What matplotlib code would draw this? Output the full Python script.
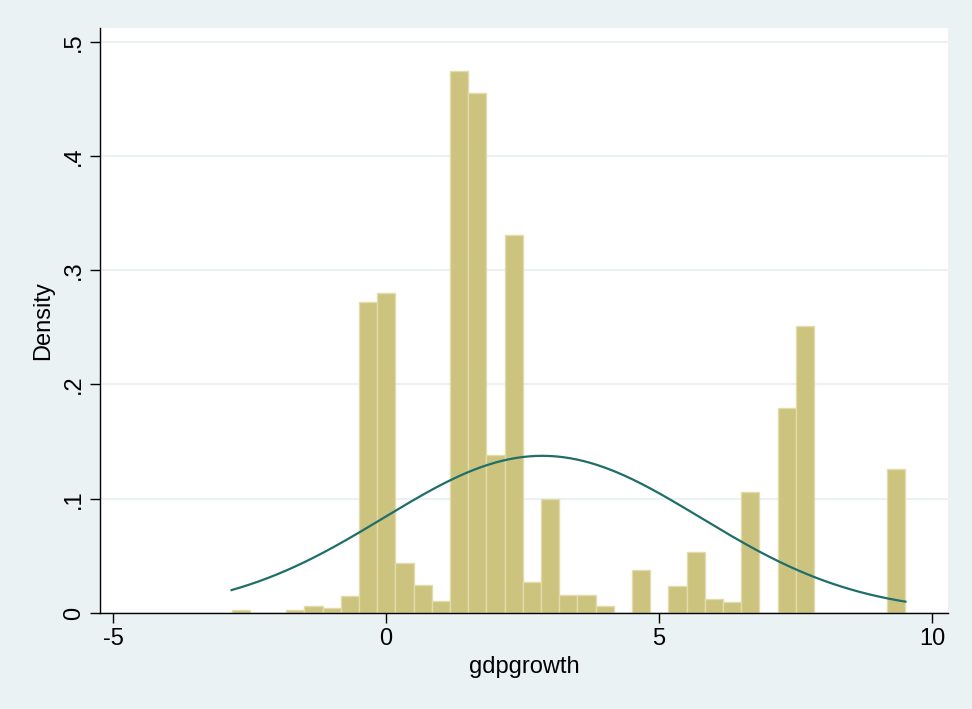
import numpy as np
import matplotlib.pyplot as plt

# histogram of gdpgrowth, 37 bins starting at the sample minimum
bin_start = -2.83
bin_width = 1 / 3
density = [0.003, 0.0, 0.0, 0.003, 0.006, 0.0045, 0.015, 0.272, 0.280, 0.0435,
           0.0245, 0.0105, 0.474, 0.455, 0.138, 0.331, 0.027, 0.100, 0.0155, 0.016,
           0.006, 0.0, 0.038, 0.0, 0.0236, 0.053, 0.012, 0.0094, 0.106, 0.0,
           0.179, 0.251, 0.0, 0.0, 0.0, 0.0, 0.126]

# normal density overlay
mu = 2.86
sd = 2.90
x_min, x_max = -2.83, 9.51

x_ticks = [-5, 0, 5, 10]
x_tick_labels = ["-5", "0", "5", "10"]
y_ticks = [0, 0.1, 0.2, 0.3, 0.4, 0.5]
y_tick_labels = ["0", ".1", ".2", ".3", ".4", ".5"]

bg = "#EAF2F3"
plt.rcParams['font.family'] = ['Liberation Sans', 'DejaVu Sans']

fig = plt.figure(figsize=(9.72, 7.09), dpi=100, facecolor=bg)
ax = fig.add_axes([100 / 972, 96 / 709, 848 / 972, 585 / 709])
ax.set_facecolor("white")

lefts = bin_start + bin_width * np.arange(len(density))
ax.bar(lefts, density, width=bin_width, align="edge", color="#CCC37F",
       edgecolor="#E2DCAC", linewidth=1.0, zorder=2)

xs = np.linspace(x_min, x_max, 300)
ys = np.exp(-0.5 * ((xs - mu) / sd) ** 2) / (sd * np.sqrt(2 * np.pi))
ax.plot(xs, ys, color="#1F6E69", linewidth=1.6, zorder=3)

ax.set_xlim(-5.24, 10.29)
ax.set_ylim(0, 0.512)
ax.set_xticks(x_ticks)
ax.set_xticklabels(x_tick_labels)
ax.set_yticks(y_ticks)
ax.set_yticklabels(y_tick_labels, rotation=90, va="center")
ax.yaxis.grid(True, color=bg, linewidth=1.5, zorder=0)
ax.set_axisbelow(True)

for s in ["top", "right"]:
    ax.spines[s].set_visible(False)
for s in ["left", "bottom"]:
    ax.spines[s].set_color("black")
    ax.spines[s].set_linewidth(1.0)

ax.tick_params(axis="both", direction="out", length=7, width=1.0,
               labelsize=17, colors="black", pad=4)
ax.set_xlabel("gdpgrowth", fontsize=17, labelpad=4)
ax.set_ylabel("Density", fontsize=17, labelpad=6)

fig.savefig("out.png", dpi=100, facecolor=bg)
